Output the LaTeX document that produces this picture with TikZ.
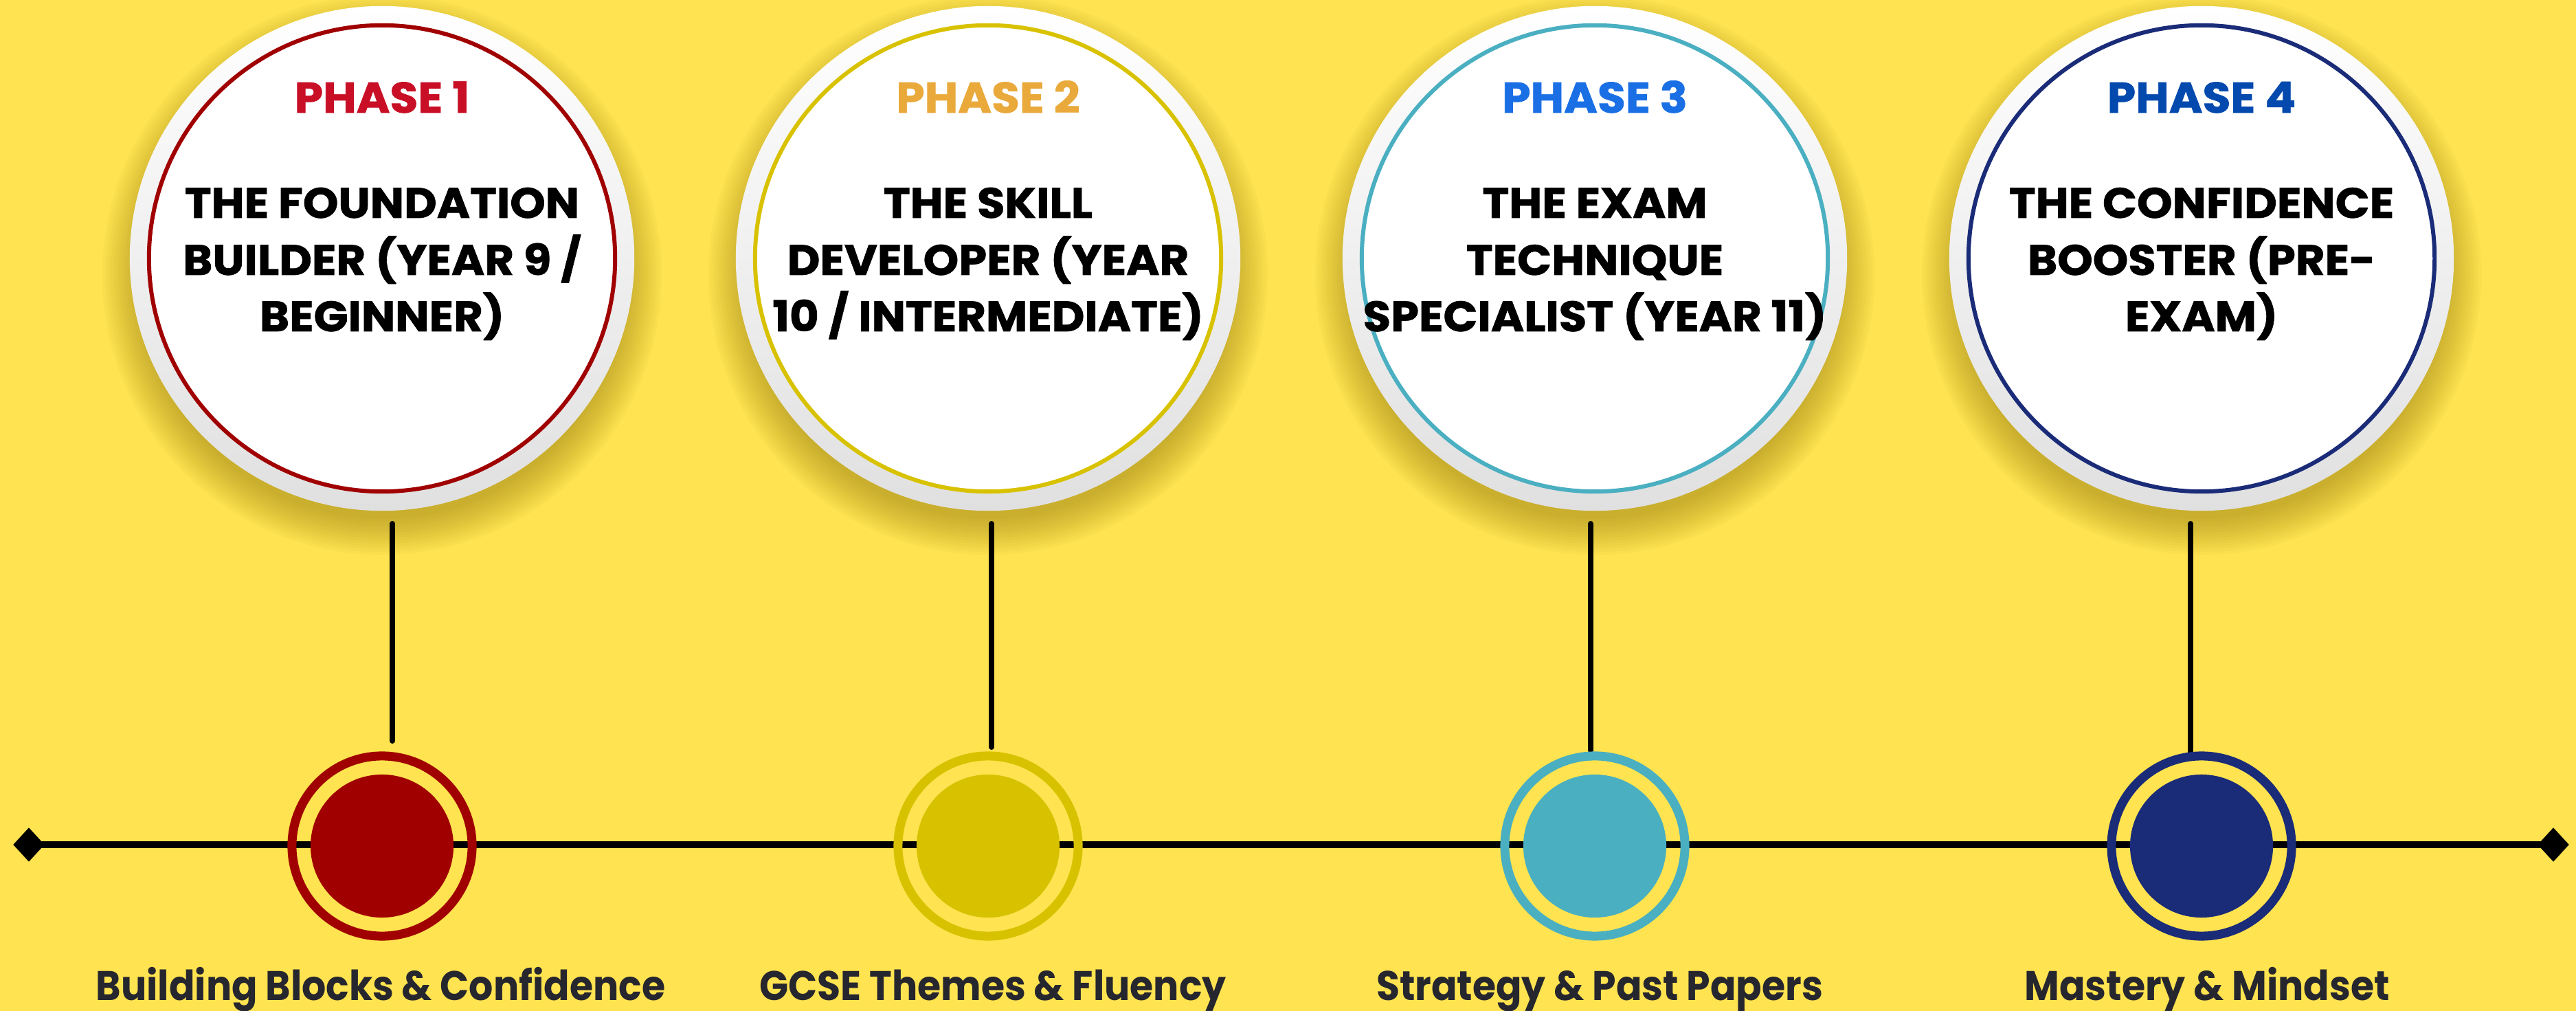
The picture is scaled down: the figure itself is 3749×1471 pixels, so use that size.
\documentclass[tikz,border=0pt]{standalone}
\usepackage{fontspec}
\setmainfont{Poppins}
\newfontfamily\titlefont{Poppins}[FakeStretch=1.06, BoldFeatures={FakeBold=1.2}]
\newfontfamily\labfont{Poppins}[FakeStretch=0.92]
\usetikzlibrary{shapes.geometric}
\definecolor{bg}{HTML}{FFE350}
\definecolor{shadowc}{HTML}{7A6000}
\definecolor{rimgray}{HTML}{E0E0E0}
\definecolor{ringa}{HTML}{A00000}
\definecolor{ringb}{HTML}{D8C200}
\definecolor{ringc}{HTML}{4AAFC1}
\definecolor{ringd}{HTML}{1A2B78}
\definecolor{txta}{HTML}{C80F25}
\definecolor{txtb}{HTML}{E9A93B}
\definecolor{txtc}{HTML}{1A6FE5}
\definecolor{txtd}{HTML}{0349AE}
\definecolor{labc}{HTML}{26262E}
\begin{document}
\begin{tikzpicture}[x=0.01cm,y=-0.01cm,
  phasestyle/.style={inner sep=0, font=\titlefont\bfseries\fontsize{17.8pt}{20pt}\selectfont},
  titlestyle/.style={inner sep=0, text=black, font=\titlefont\bfseries\fontsize{17.6pt}{20pt}\selectfont},
  labelstyle/.style={inner sep=0, text=labc, font=\labfont\bfseries\fontsize{17.1pt}{20pt}\selectfont},
  vline/.style={line width=2.3pt, line cap=round, draw=black},
  tline/.style={line width=2.85pt, draw=black},
  endmark/.style={diamond, fill=black, minimum width=0.46cm, minimum height=0.50cm, inner sep=0},
  bigring/.style={circle, line width=1.7pt, fill=white, minimum size=6.78cm, inner sep=0},
  smallring/.style={circle, line width=3.7pt, minimum size=2.62cm, inner sep=0},
  smalldot/.style={circle, minimum size=2.08cm, inner sep=0}
]
\useasboundingbox (0,0) rectangle (3749,1471);
\fill[bg] (0,0) rectangle (3749,1471);
% timeline
\node[endmark] (dl) at (42,1229) {};
\node[endmark] (dr) at (3716,1229) {};
\draw[tline] (dl.center) -- (dr.center);
\foreach \i/\cx/\rc/\tc/\la/\lb/\lc/\lab/\lx/\vx/\vb in {
  1/556/ringa/txta/{THE FOUNDATION}/{BUILDER (YEAR 9 /}/{BEGINNER)}/{Building Blocks \& Confidence}/554/571/1078,
  2/1438/ringb/txtb/{THE SKILL}/{DEVELOPER (YEAR}/{10 / INTERMEDIATE)}/{GCSE Themes \& Fluency}/1445/1443/1087,
  3/2321/ringc/txtc/{THE EXAM}/{TECHNIQUE}/{SPECIALIST (YEAR 11)}/{Strategy \& Past Papers}/2328/2315/1092,
  4/3204/ringd/txtd/{THE CONFIDENCE}/{BOOSTER (PRE-}/{EXAM)}/{Mastery \& Mindset}/3212/3188/1095}{
  % soft shadow
  \foreach \k in {0,...,13}{
    \fill[shadowc, opacity=0.03] (\cx,400) circle[radius={3.55cm+\k*0.04cm}];
  }
  \shade[top color=white, bottom color=rimgray] (\cx,376) circle[radius=3.67cm];
  \node[bigring, draw=\rc] (big\i) at (\cx,376) {};
  \node[phasestyle, text=\tc, anchor=base] (ph\i) at (\cx,164) {PHASE \i};
  \node[titlestyle, anchor=base] (ta\i) at (\cx,317) {\la};
  \node[titlestyle, anchor=base] (tb\i) at (\cx,400) {\lb};
  \node[titlestyle, anchor=base] (tc\i) at (\cx,482) {\lc};
  % connector
  \coordinate (vt\i) at (\vx,762);
  \coordinate (vb\i) at (\vx,\vb);
  \draw[vline] (vt\i) -- (vb\i);
  % timeline marker
  \node[smallring, draw=\rc] (sm\i) at (\cx,1231) {};
  \node[smalldot, fill=\rc] (dot\i) at (\cx,1231) {};
  % label
  \node[labelstyle, anchor=base] (lab\i) at (\lx,1455) {\lab};
}
\end{tikzpicture}
\end{document}
